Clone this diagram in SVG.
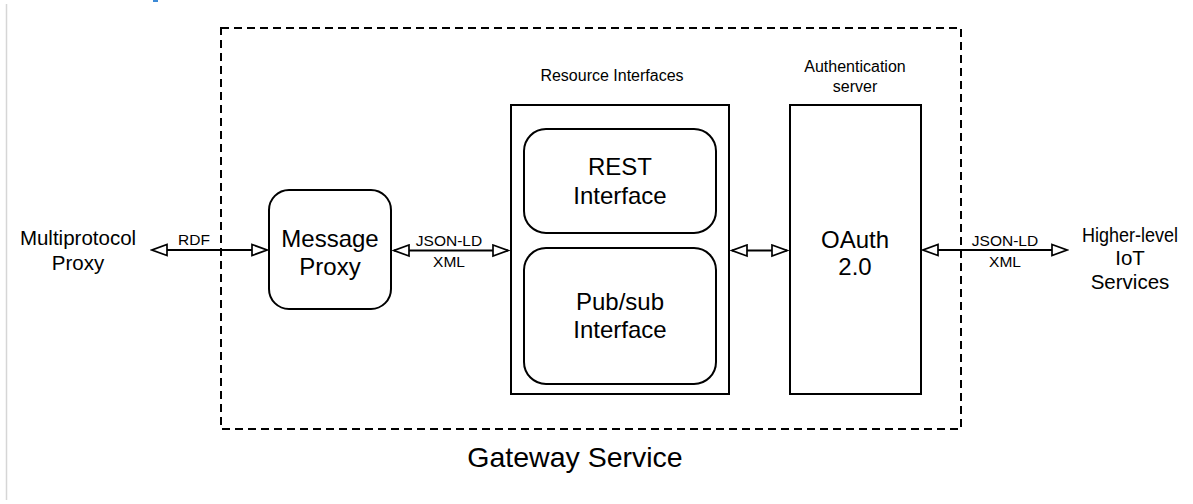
<svg xmlns="http://www.w3.org/2000/svg" width="1193" height="504" viewBox="0 0 1193 504">
<style>
text{font-family:"Liberation Sans",Arial,sans-serif;fill:#000;text-anchor:middle}
.big{font-size:24px}
.side{font-size:20.5px}
.small{font-size:16px}
.lbl{font-size:15.5px}
.title{font-size:28.5px}
.box{fill:#fff;stroke:#000;stroke-width:2}
.conn{stroke:#000;stroke-width:2;fill:none;marker-start:url(#ah);marker-end:url(#ah)}
</style>
<defs>
<marker id="ah" markerUnits="userSpaceOnUse" markerWidth="18" markerHeight="14" refX="16" refY="7" orient="auto-start-reverse" viewBox="0 0 18 14">
<path d="M1,1.5 L16,7 L1,12.5 Z" fill="#fff" stroke="#000" stroke-width="1.7" stroke-linejoin="miter"/>
</marker>
</defs>
<rect width="1193" height="504" fill="#fff"/>
<line x1="6.5" y1="4" x2="6.5" y2="500" stroke="#d6d6d6" stroke-width="1.5"/>
<rect x="153" y="0" width="5" height="2" fill="#3d8ad6"/>

<g id="gateway-service">
<rect x="221" y="28" width="740" height="401" fill="none" stroke="#000" stroke-width="2" stroke-dasharray="8,5"/>
<text class="title" x="575" y="467">Gateway Service</text>
</g>

<g id="multiprotocol-proxy">
<text class="side" x="78" y="245">Multiprotocol</text>
<text class="side" x="78" y="270">Proxy</text>
</g>

<g id="message-proxy">
<rect class="box" x="269" y="190" width="122" height="119" rx="20"/>
<text class="big" x="330" y="247">Message</text>
<text class="big" x="330" y="275">Proxy</text>
</g>

<g id="resource-interfaces">
<text class="small" x="612" y="81">Resource Interfaces</text>
<rect class="box" x="511" y="105" width="218" height="289"/>
<g id="rest-interface">
<rect class="box" x="524" y="129" width="192" height="104" rx="22"/>
<text class="big" x="620" y="175">REST</text>
<text class="big" x="620" y="204">Interface</text>
</g>
<g id="pubsub-interface">
<rect class="box" x="524" y="248" width="192" height="136" rx="22"/>
<text class="big" x="620" y="310">Pub/sub</text>
<text class="big" x="620" y="338">Interface</text>
</g>
</g>

<g id="authentication-server">
<text class="small" x="855" y="72">Authentication</text>
<text class="small" x="855" y="92">server</text>
<rect class="box" x="790" y="105" width="131" height="289"/>
<text class="big" x="855" y="248">OAuth</text>
<text class="big" x="855" y="275">2.0</text>
</g>

<g id="higher-level-iot-services">
<text class="side" x="1130" y="242" textLength="96" lengthAdjust="spacingAndGlyphs">Higher-level</text>
<text class="side" x="1130" y="265">IoT</text>
<text class="side" x="1130" y="289">Services</text>
</g>

<g id="connectors">
<line class="conn" x1="152" y1="250" x2="267" y2="250"/>
<text class="lbl" x="194" y="245">RDF</text>
<line class="conn" x1="394" y1="250.5" x2="508" y2="250.5"/>
<text class="lbl" x="449" y="246">JSON-LD</text>
<text class="lbl" x="449" y="267">XML</text>
<line class="conn" x1="732" y1="250.5" x2="787" y2="250.5"/>
<line class="conn" x1="923" y1="250" x2="1067" y2="250"/>
<text class="lbl" x="1005" y="246">JSON-LD</text>
<text class="lbl" x="1005" y="267">XML</text>
</g>
</svg>
